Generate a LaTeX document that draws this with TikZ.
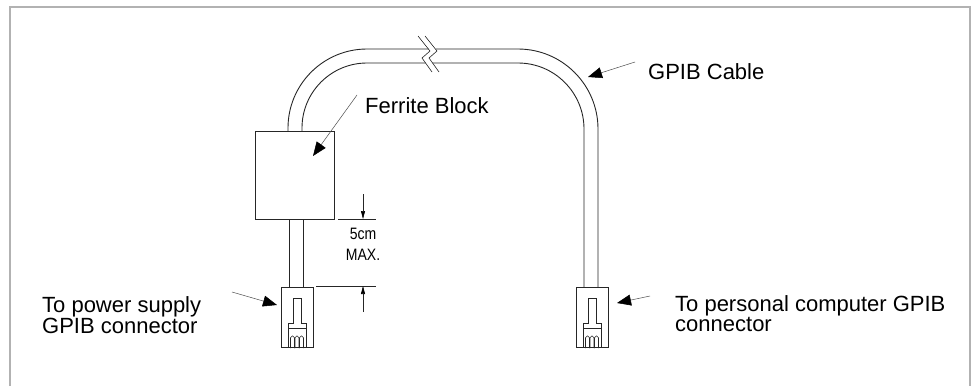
\documentclass[tikz,border=0pt]{standalone}
\usepackage{fontspec}
\setmainfont{Liberation Sans}
\usetikzlibrary{arrows.meta}
\begin{document}
\begin{tikzpicture}[x=1pt,y=-1pt,
  cable/.style={line width=0.9pt, black!85},
  frame/.style={line width=1.2pt, black!30},
  leader/.style={line width=0.5pt, black!70, -{Triangle[length=14pt,width=11pt,color=black]}},
  dimarrow/.style={line width=0.6pt, black!85, -{Triangle[length=8pt,width=4pt,color=black]}},
  lbl/.style={inner sep=0pt, font=\fontsize{22}{20}\selectfont},
  dimlbl/.style={inner sep=0pt, font=\fontsize{16.5}{21}\selectfont},
  plug/.pic={
    \draw[cable] (0,0) rectangle (32,60);
    \draw[cable] (7,60) -- (7,36) -- (12,36) -- (12,11) -- (20,11) -- (20,36) -- (25,36) -- (25,60);
    \draw[cable] (7,41) -- (25,41);
    \foreach \t in {9.5,14,18.5}
      \draw[cable, line width=0.6pt, rounded corners=1.8pt] (\t,61) -- (\t,49) -- (\t+4,49) -- (\t+4,61);
  }
]
\useasboundingbox (0,0) rectangle (974,386);
% frame
\draw[frame] (10,386) -- (10,7) -- (970,7) -- (970,386);

% cable, left part
\draw[cable, rounded corners=79pt] (288,131) -- (288,49) -- (428.5,49);
\draw[cable, rounded corners=65pt] (302,131) -- (302,63) -- (425.5,63);
% cable, right part
\draw[cable, rounded corners=80pt] (436,49) -- (598,49) -- (598,287);
\draw[cable, rounded corners=66pt] (432.5,63) -- (584,63) -- (584,287);
% break marks
\draw[cable, line width=0.6pt] (418,36) -- (430,51) -- (422,58) -- (432,72);
\draw[cable, line width=0.6pt] (425,36) -- (437,51) -- (429,58) -- (439,72);

% ferrite block
\node[draw=black!85, line width=0.9pt, minimum width=79pt, minimum height=88pt, inner sep=0pt, anchor=north west] (block) at (255,131) {};
% cable below block
\draw[cable] (289,219) -- (289,287);
\draw[cable] (303,219) -- (303,287);

% plugs
\pic (plugL) at (281,287) {plug};
\pic (plugR) at (576,287) {plug};

% dimension
\coordinate (extT1) at (338,219); \coordinate (extT2) at (376,219);
\coordinate (extB1) at (316,286); \coordinate (extB2) at (376,286);
\draw[line width=0.6pt, black!85] (extT1) -- (extT2);
\draw[line width=0.6pt, black!85] (extB1) -- (extB2);
\coordinate (dimT0) at (363,194); \coordinate (dimT1) at (363,219);
\coordinate (dimB0) at (363,312); \coordinate (dimB1) at (363,286);
\draw[dimarrow] (dimT0) -- (dimT1);
\draw[dimarrow] (dimB0) -- (dimB1);
\node[dimlbl, anchor=base] (dim) at (363,239) {\scalebox{0.85}[1]{\begin{tabular}[t]{@{}c@{}}5cm\\MAX.\end{tabular}}};

% labels
\node[lbl, anchor=base west] (ferrite) at (365,113) {Ferrite Block};
\node[lbl, anchor=base west] (cablelbl) at (648,79) {GPIB Cable};
\node[lbl, anchor=base west] (pwr) at (42,312) {\begin{tabular}[t]{@{}l@{}}To power supply\\GPIB connector\end{tabular}};
\node[lbl, anchor=base west] (pc) at (675,311) {\begin{tabular}[t]{@{}l@{}}To personal computer GPIB\\connector\end{tabular}};

% leaders
\coordinate (fS) at (357,95);  \coordinate (fT) at (313,156);
\coordinate (cS) at (635,62);  \coordinate (cT) at (588,77);
\coordinate (pS) at (232,292); \coordinate (pT) at (277,305);
\coordinate (qS) at (650,296); \coordinate (qT) at (617,303);
\draw[leader] (fS) -- (fT);
\draw[leader] (cS) -- (cT);
\draw[leader] (pS) -- (pT);
\draw[leader] (qS) -- (qT);
\end{tikzpicture}
\end{document}
